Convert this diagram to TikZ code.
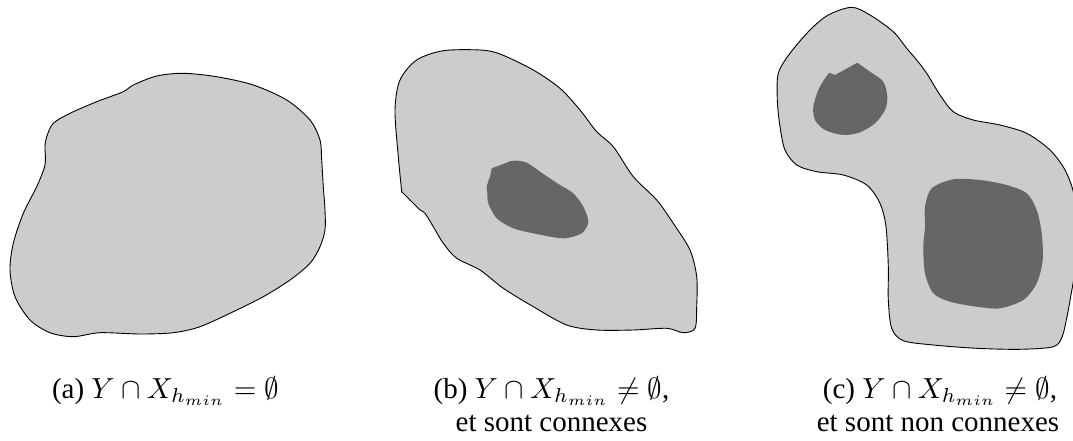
\documentclass[tikz,border=0pt]{standalone}
\usepackage{fontspec}
\setmainfont{Liberation Serif}
\definecolor{lightregion}{HTML}{CCCCCC}
\definecolor{darkregion}{HTML}{666666}
\tikzset{
  outer/.style={fill=lightregion, draw=black, line width=0.9pt, line join=round},
  inner/.style={fill=darkregion},
  caption/.style={anchor=base, inner sep=0pt, font=\fontsize{10}{12}\selectfont, scale=2.9}
}
\begin{document}
\begin{tikzpicture}[x=1pt,y=-1pt]
\useasboundingbox (0,0) rectangle (1073,441);
\clip (0,0) rectangle (1073,441);
% (a)
\draw[outer] plot[smooth cycle, tension=0.5] coordinates {
 (46.7,136.7) (53.3,123.3) (70,113.3) (96.7,101.7) (123.3,91.7) (133.3,85)
 (156.7,76) (183.3,73.3) (216.7,76.7) (253.3,85) (286.7,100) (310,120)
 (320,140) (321.7,160) (323.3,186.7) (325,210) (325,230) (320,246.7)
 (310,263.3) (290,280) (263.3,296.7) (233.3,311.7) (200,326.7) (173.3,332.7)
 (140,334) (100,332.7) (73.3,336.7) (50,332.7) (30,320) (15,296.7)
 (10,270) (13.3,243.3) (23.3,213.3) (36.7,186.7) (45,165) (45,146.7)};
% (b)
\draw[outer] plot[smooth, tension=0.5] coordinates {
 (401.7,191.7) (398.3,156.7) (395,110) (400,80) (416.7,60) (443.3,50.7)
 (480,50) (500,54) (533.3,70) (560,88.3) (580,110) (596.7,131.7)
 (613.3,146.7) (633.3,176.7) (656.7,200) (673.3,223.3) (690,250)
 (696.7,276.7) (696.7,306.7) (695,328.3) (683.3,332.7) (666.7,328.3)
 (633.3,330) (596.7,330) (566.7,325) (533.3,306.7) (503.3,288.3)
 (480,270) (456.7,258.3) (443.3,243.3) (433.3,226.7) (425,213.3) (420,210)}
 -- cycle;
\fill[inner] (491.7,168.3) -- plot[smooth, tension=0.5] coordinates {
 (491.7,168.3) (503.3,164) (513.3,160.7) (526.7,162.7) (543.3,174) (560,185)
 (573.3,193.3) (583.3,206.7) (588.3,221.7) (581.7,233.3) (563.3,238.3)
 (536.7,234) (513.3,228.3) (496.7,218.3) (488.3,203.3) (487.3,192.7)
 (486.7,186.7) (490,176.7)} -- cycle;
% (c)
\draw[outer] plot[smooth cycle, tension=0.5] coordinates {
 (851.7,7.3) (870,15) (893.3,31.7) (906.7,48.3) (916.7,60) (926.7,73.3)
 (940,95) (953.3,111.7) (973.3,120) (1000,125) (1026.7,133.3) (1050,150)
 (1065,170) (1074,195) (1077,235) (1075,270) (1071.5,292) (1067,316.7)
 (1062,337) (1053.3,346.7) (1020,349.3) (976.7,348.3) (933.3,345)
 (903.3,340.7) (891.7,328.3) (888.3,300) (888.3,266.7) (886,226.7)
 (880,203.3) (866.7,185) (843.3,175) (816.7,171.7) (796.7,165) (785,150)
 (780,126.7) (777.3,100) (778.3,73.3) (790,53.3) (810,30) (828.3,15)};
\fill[inner] (829.3,72.7) -- (835,75) -- (857.3,62.7) -- plot[smooth, tension=0.5] coordinates {
 (857.3,62.7) (870,71.7) (883.3,81.7) (887.3,96.7) (885,110) (875,123.3)
 (860,132.3) (843.3,135) (825,130) (815,120) (813.3,106.7) (818.3,90)
 (825,78.3) (829.3,72.7)} -- cycle;
\fill[inner] plot[smooth cycle, tension=0.5] coordinates {
 (953.3,179.3) (980,180) (1006.7,185) (1026.7,193.3) (1036.7,210)
 (1041.7,233.3) (1042.7,260) (1036.7,283.3) (1023.3,300) (1000,308.3)
 (976.7,306.7) (950,301.7) (933.3,293.3) (925,273.3) (923.3,246.7)
 (925,226.7) (925,206.7) (931.7,188.3)};
% captions
\node[caption] (capa) at (165.5,398) {(a) $Y\cap X_{h_{min}}=\emptyset$};
\node[caption] (capb1) at (551.5,398) {(b) $Y\cap X_{h_{min}}\neq\emptyset$,};
\node[caption] (capb2) at (551.5,431) {et sont connexes};
\node[caption] (capc1) at (940,398) {(c) $Y\cap X_{h_{min}}\neq\emptyset$,};
\node[caption] (capc2) at (938,431) {et sont non connexes};
\end{tikzpicture}
\end{document}
